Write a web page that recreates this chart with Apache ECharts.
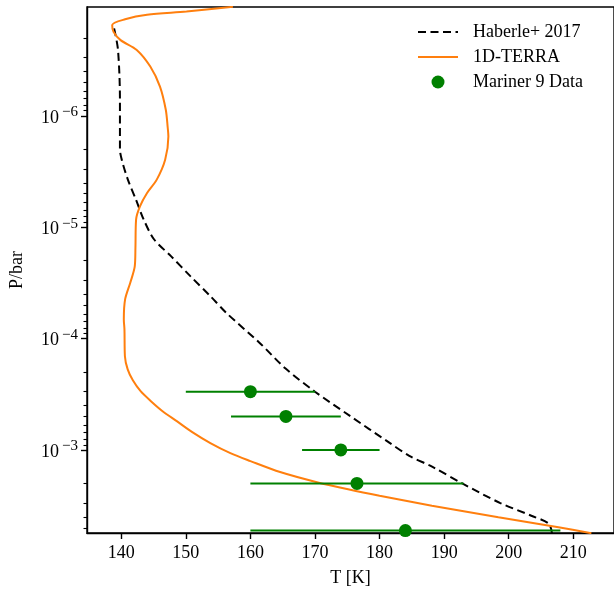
<!DOCTYPE html>
<html>
<head>
<meta charset="utf-8">
<script src="https://cdn.jsdelivr.net/npm/echarts@6/dist/echarts.min.js"></script>
<style>
html,body{margin:0;padding:0;background:#fff;}
#chart{width:614px;height:592px;}
</style>
</head>
<body>
<div id="chart"></div>
<script>
// ---- data ----
const haberleT = [138.9, 139.5, 139.8, 139.8, 140.1, 141.0, 142.3, 143.5, 145.1, 147.7, 150.7, 153.8, 156.3, 161.4, 165.4, 170.0, 175.3, 181.5, 184.6, 188.2, 192.8, 198.7, 203.5, 206.2, 206.7];
const haberleP = [1.64e-7, 2.56e-7, 7.2e-7, 2.0e-6, 2.5e-6, 3.7e-6, 5.7e-6, 8.6e-6, 1.29e-5, 1.82e-5, 2.75e-5, 4.16e-5, 5.9e-5, 1.09e-4, 1.85e-4, 3.0e-4, 4.9e-4, 8.6e-4, 1.13e-3, 1.42e-3, 2.0e-3, 3.0e-3, 3.9e-3, 4.6e-3, 5.6e-3];

const terraT = [157.3, 150.1, 144.0, 140.6, 138.6, 138.8, 139.9, 142.4, 144.5, 146.0, 146.9, 147.2, 147.3, 146.8, 145.5, 144.0, 142.9, 142.3, 142.2, 142.1, 141.4, 140.6, 140.4, 140.5, 140.57, 141.0, 141.8, 143.0, 144.6, 146.4, 148.6, 151.0, 153.8, 156.9, 160.0, 164.6, 170.3, 175.3, 180.0, 188.1, 198.4, 207.7, 212.8];
const terraP = [1.05e-7, 1.16e-7, 1.24e-7, 1.36e-7, 1.53e-7, 1.76e-7, 2.09e-7, 2.56e-7, 3.61e-7, 5.46e-7, 8.83e-7, 1.28e-6, 1.53e-6, 2.48e-6, 3.74e-6, 4.93e-6, 6.5e-6, 8.55e-6, 1.53e-5, 2.24e-5, 3.15e-5, 4.45e-5, 6.73e-5, 8.27e-5, 1.44e-4, 1.89e-4, 2.37e-4, 2.97e-4, 3.65e-4, 4.49e-4, 5.52e-4, 6.93e-4, 8.69e-4, 1.07e-3, 1.26e-3, 1.58e-3, 1.95e-3, 2.27e-3, 2.58e-3, 3.17e-3, 4.03e-3, 4.95e-3, 5.6e-3];

const marinerT = [160, 165.5, 174, 176.5, 184];
const marinerP = [3.0e-4, 5.0e-4, 1.0e-3, 2.0e-3, 5.3e-3];
const marinerTlo = [150, 157, 168, 160, 160];
const marinerThi = [170, 174, 180, 193, 208];

const seriesNames = ['Haberle+ 2017', '1D-TERRA', 'Mariner 9 Data'];
const xTicks = [140, 150, 160, 170, 180, 190, 200, 210];
const yMajor = [1e-6, 1e-5, 1e-4, 1e-3];
const yMinorMantissa = [2, 3, 4, 5, 6, 7, 8, 9];
const yMinorExp = [-7, -6, -5, -4, -3];

// ---- axis ranges ----
const xMin = 134.7, xMax = 216.3;
const yMin = Math.pow(10, -6.977), yMax = Math.pow(10, -2.254);

const yMinor = [];
yMinorExp.forEach(e => yMinorMantissa.forEach(m => {
  const v = m * Math.pow(10, e);
  if (v >= yMin && v <= yMax) yMinor.push(v);
}));

const FONT = 'Liberation Serif';
const BLACK = '#000';

const zip = (a, b) => a.map((v, i) => [v, b[i]]);

const chart = echarts.init(document.getElementById('chart'), null, {renderer: 'canvas'});

const option = {
  animation: false,
  backgroundColor: '#fff',
  grid: {left: 86, top: 7, right: -2, bottom: 58, show: true, borderColor: BLACK, borderWidth: 1.4, containLabel: false},
  legend: {
    data: [
      {name: seriesNames[0], itemStyle: {opacity: 0}},
      {name: seriesNames[1], itemStyle: {opacity: 0}},
      {name: seriesNames[2]}
    ],
    orient: 'vertical',
    left: 417,
    top: 23,
    padding: 0,
    itemGap: 7,
    itemWidth: 40,
    itemHeight: 13,
    textStyle: {fontFamily: FONT, fontSize: 18, color: BLACK, lineHeight: 18, padding: [0, 0, 0, 10]}
  },
  xAxis: [{
    type: 'value', min: xMin, max: xMax,
    axisLine: {show: true, onZero: false, lineStyle: {color: BLACK, width: 1.4}},
    axisTick: {show: true, customValues: xTicks, length: 6, lineStyle: {color: BLACK, width: 1.4}},
    axisLabel: {customValues: xTicks, margin: 11, fontFamily: FONT, fontSize: 18, color: BLACK},
    splitLine: {show: false},
    name: 'T [K]', nameLocation: 'middle', nameGap: 36,
    nameTextStyle: {fontFamily: FONT, fontSize: 18, color: BLACK}
  }],
  yAxis: [{
    type: 'log', logBase: 10, min: yMin, max: yMax, inverse: true,
    axisLine: {show: true, onZero: false, lineStyle: {color: BLACK, width: 1.4}},
    axisTick: {show: true, customValues: yMajor, length: 6, lineStyle: {color: BLACK, width: 1.4}},
    axisLabel: {
      customValues: yMajor, margin: 9,
      formatter: function (v) {
        const e = Math.round(Math.log10(v));
        return '{b|10}{s|\u2212' + (-e) + '}';
      },
      rich: {
        b: {fontFamily: FONT, fontSize: 18, color: BLACK, verticalAlign: 'bottom'},
        s: {fontFamily: FONT, fontSize: 15, color: BLACK, verticalAlign: 'bottom', padding: [0, 0, 7, 3]}
      }
    },
    splitLine: {show: false},
    minorTick: {show: false},
    name: 'P/bar', nameLocation: 'middle', nameRotate: 90, nameGap: 61,
    nameTextStyle: {fontFamily: FONT, fontSize: 18, color: BLACK}
  }, {
    type: 'log', logBase: 10, min: yMin, max: yMax, inverse: true, position: 'left',
    axisLine: {show: false},
    axisTick: {show: true, customValues: yMinor, length: 3.5, lineStyle: {color: BLACK, width: 1.1}},
    axisLabel: {show: false},
    splitLine: {show: false}
  }],
  series: [
    {
      name: seriesNames[0], type: 'line', data: zip(haberleT, haberleP),
      symbol: 'none', smooth: 0.3, clip: true,
      lineStyle: {color: BLACK, width: 2, type: [8, 4.5]},
      itemStyle: {color: BLACK},
      z: 2
    },
    {
      name: seriesNames[1], type: 'line', data: zip(terraT, terraP),
      symbol: 'none', smooth: 0.3, clip: true,
      lineStyle: {color: '#ff7f0e', width: 2},
      itemStyle: {color: '#ff7f0e'},
      z: 3
    },
    {
      name: 'errorbars', type: 'custom',
      data: marinerT.map((t, i) => [marinerTlo[i], marinerThi[i], marinerP[i]]),
      encode: {x: [0, 1], y: 2},
      renderItem: function (params, api) {
        const a = api.coord([api.value(0), api.value(2)]);
        const b = api.coord([api.value(1), api.value(2)]);
        return {
          type: 'line',
          shape: {x1: a[0], y1: a[1], x2: b[0], y2: b[1]},
          style: {stroke: '#008000', lineWidth: 2}
        };
      },
      z: 4
    },
    {
      name: seriesNames[2], type: 'scatter', data: zip(marinerT, marinerP),
      symbol: 'circle', symbolSize: 13,
      itemStyle: {color: '#008000', opacity: 1},
      z: 5
    }
  ]
};

chart.setOption(option);
</script>
</body>
</html>
